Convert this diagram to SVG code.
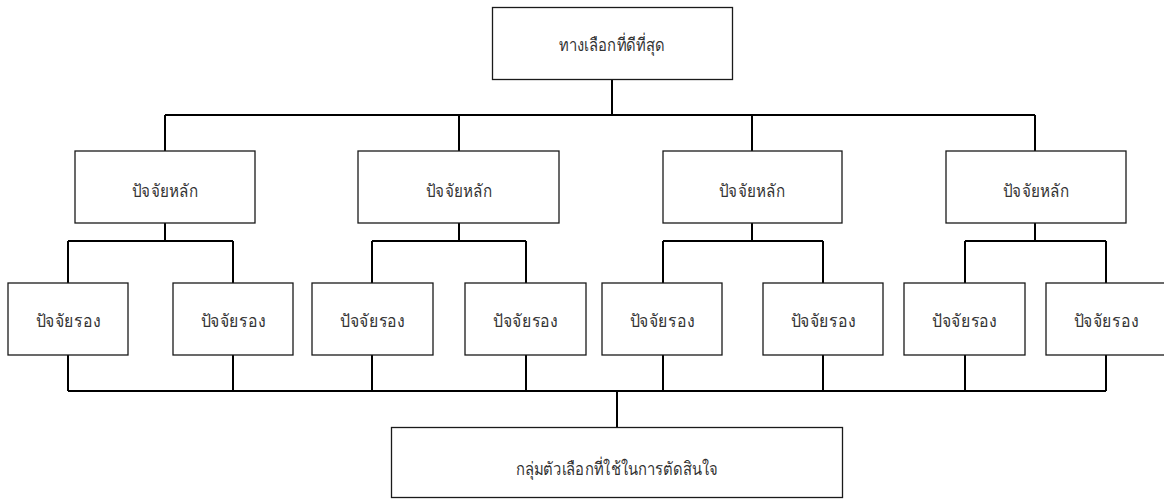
<svg xmlns="http://www.w3.org/2000/svg" width="1164" height="499" viewBox="0 0 1164 499">
<style>
.box{fill:#fff;stroke:#1a1a1a;stroke-width:1.3}
.ln{fill:none;stroke:#000;stroke-width:2}
text{font-family:"Noto Sans","DejaVu Sans","Liberation Sans",sans-serif;font-size:18px;fill:#333;text-anchor:middle}
</style>
<rect width="1164" height="499" fill="#fff"/>
<g id="connectors">
<path class="ln" d="M612 79V115M165 115H1035M165 115V151M459 115V151M752 115V151M1035 115V151"/>
<path class="ln" d="M165 223V241M459 223V241M752 223V241M1035 223V241"/>
<path class="ln" d="M68 241H233M372 241H526M663 241H823M965 241H1106"/>
<path class="ln" d="M68 241V283M233 241V283M372 241V283M526 241V283M663 241V283M823 241V283M965 241V283M1106 241V283"/>
<path class="ln" d="M68 355V391M233 355V391M372 355V391M526 355V391M663 355V391M823 355V391M965 355V391M1106 355V391M68 391H1106M617 391V427"/>
</g>
<g id="top"><rect class="box" x="492.5" y="7.5" width="240" height="72"/><text x="612" y="51" textLength="106" lengthAdjust="spacingAndGlyphs">ทางเลือกที่ดีที่สุด</text></g>
<g id="main1"><rect class="box" x="75" y="151" width="180" height="72"/><text x="165" y="197" textLength="66" lengthAdjust="spacingAndGlyphs">ปัจจัยหลัก</text></g>
<g id="main2"><rect class="box" x="358" y="151" width="201" height="72"/><text x="459" y="197" textLength="66" lengthAdjust="spacingAndGlyphs">ปัจจัยหลัก</text></g>
<g id="main3"><rect class="box" x="663" y="151" width="179" height="72"/><text x="752" y="197" textLength="66" lengthAdjust="spacingAndGlyphs">ปัจจัยหลัก</text></g>
<g id="main4"><rect class="box" x="946" y="151" width="180" height="72"/><text x="1036" y="197" textLength="66" lengthAdjust="spacingAndGlyphs">ปัจจัยหลัก</text></g>
<g id="sub1"><rect class="box" x="8" y="283" width="120" height="72"/><text x="68" y="327" textLength="65" lengthAdjust="spacingAndGlyphs">ปัจจัยรอง</text></g>
<g id="sub2"><rect class="box" x="173" y="283" width="120" height="72"/><text x="233" y="327" textLength="65" lengthAdjust="spacingAndGlyphs">ปัจจัยรอง</text></g>
<g id="sub3"><rect class="box" x="312" y="283" width="121" height="72"/><text x="372.5" y="327" textLength="65" lengthAdjust="spacingAndGlyphs">ปัจจัยรอง</text></g>
<g id="sub4"><rect class="box" x="465" y="283" width="121" height="72"/><text x="525.5" y="327" textLength="65" lengthAdjust="spacingAndGlyphs">ปัจจัยรอง</text></g>
<g id="sub5"><rect class="box" x="602" y="283" width="120" height="72"/><text x="662" y="327" textLength="65" lengthAdjust="spacingAndGlyphs">ปัจจัยรอง</text></g>
<g id="sub6"><rect class="box" x="763" y="283" width="120" height="72"/><text x="823" y="327" textLength="65" lengthAdjust="spacingAndGlyphs">ปัจจัยรอง</text></g>
<g id="sub7"><rect class="box" x="904" y="283" width="121" height="72"/><text x="964.5" y="327" textLength="65" lengthAdjust="spacingAndGlyphs">ปัจจัยรอง</text></g>
<g id="sub8"><rect class="box" x="1046" y="283" width="120" height="72"/><text x="1106" y="327" textLength="65" lengthAdjust="spacingAndGlyphs">ปัจจัยรอง</text></g>
<g id="bottom"><rect class="box" x="391.5" y="427.5" width="451" height="70"/><text x="617" y="475" textLength="203" lengthAdjust="spacingAndGlyphs">กลุ่มตัวเลือกที่ใช้ในการตัดสินใจ</text></g>
</svg>
